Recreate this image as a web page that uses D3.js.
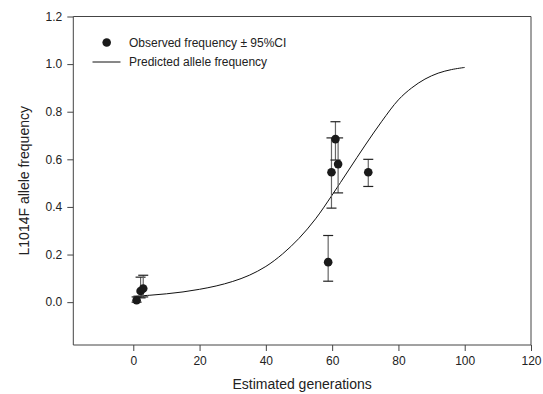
<!DOCTYPE html>
<html>
<head>
<meta charset="utf-8">
<script src="https://cdn.jsdelivr.net/npm/d3@7"></script>
<style>
  html, body { margin: 0; padding: 0; background: #fff; }
  svg { display: block; font-family: "Liberation Sans", Arial, sans-serif; }
</style>
</head>
<body>
<svg id="chart" width="543" height="394"></svg>
<script>
// Observed data (estimated generations, frequency, 95% CI)
const obsGen   = [1.0, 2.2, 3.0, 58.8, 59.8, 61.0, 61.8, 70.9];
const obsFreq  = [0.008, 0.047, 0.057, 0.168, 0.546, 0.685, 0.580, 0.546];
const obsLower = [0.000, 0.018, 0.022, 0.088, 0.395, 0.597, 0.459, 0.486];
const obsUpper = [0.022, 0.105, 0.113, 0.280, 0.690, 0.758, 0.690, 0.600];

// Predicted allele frequency curve
const predGen  = [0, 5, 10, 15, 20, 25, 30, 35, 40, 45, 50, 55, 60, 65, 70, 75, 80, 84, 88, 92, 96, 100];
const predFreq = [0.025, 0.029, 0.035, 0.043, 0.054, 0.068, 0.087, 0.113, 0.150, 0.202, 0.268, 0.350,
                  0.45, 0.555, 0.66, 0.76, 0.85, 0.90, 0.937, 0.962, 0.977, 0.986];

const xTicks = [0, 20, 40, 60, 80, 100, 120];
const yTicks = [0.0, 0.2, 0.4, 0.6, 0.8, 1.0, 1.2];

const legendLabels = ["Observed frequency \u00b1 95%CI", "Predicted allele frequency"];
const xTitle = "Estimated generations";
const yTitle = "L1014F allele frequency";

const svg = d3.select("#chart");
const L = 73.3, R = 531, T = 16.5, B = 345;

const x = d3.scaleLinear().domain([-18.1, 120]).range([L, R]);
const y = d3.scaleLinear().domain([-0.18, 1.2]).range([B, T]);

const axisColor = "#444";
const textColor = "#222";

// frame top & right
svg.append("line").attr("x1", L).attr("x2", R).attr("y1", T).attr("y2", T)
  .attr("stroke", axisColor).attr("stroke-width", 1);
svg.append("line").attr("x1", R).attr("x2", R).attr("y1", T).attr("y2", B)
  .attr("stroke", axisColor).attr("stroke-width", 1);

// axes
const xAxis = svg.append("g").attr("transform", `translate(0,${B})`)
  .call(d3.axisBottom(x).tickValues(xTicks).tickSize(6).tickPadding(5).tickFormat(d3.format("d")));
const yAxis = svg.append("g").attr("transform", `translate(${L},0)`)
  .call(d3.axisLeft(y).tickValues(yTicks).tickSize(6).tickPadding(5).tickFormat(d3.format(".1f")));
[xAxis, yAxis].forEach(g => {
  g.select(".domain").attr("stroke", axisColor).attr("stroke-width", 1);
  g.selectAll(".tick line").attr("stroke", axisColor);
  g.selectAll(".tick text").attr("fill", textColor)
    .style("font-size", "12px").style("font-family", "'Liberation Sans', Arial, sans-serif");
});
// remove outer ticks
xAxis.select(".domain").attr("d", `M${L},0H${R}`);
yAxis.select(".domain").attr("d", `M0,${B}V${T}`);

// titles
svg.append("text").attr("x", (L + R) / 2).attr("y", 389)
  .attr("text-anchor", "middle").attr("fill", textColor).style("font-size", "14px").text(xTitle);
svg.append("text").attr("transform", `translate(29,${(T + B) / 2}) rotate(-90)`)
  .attr("text-anchor", "middle").attr("fill", textColor).style("font-size", "14px").text(yTitle);

// predicted curve
const line = d3.line().x(d => x(d[0])).y(d => y(d[1])).curve(d3.curveCatmullRom.alpha(0.5));
svg.append("path").datum(predGen.map((g, i) => [g, predFreq[i]]))
  .attr("d", line).attr("fill", "none").attr("stroke", "#111").attr("stroke-width", 1);

// error bars
const obs = obsGen.map((g, i) => ({ g, f: obsFreq[i], lo: obsLower[i], hi: obsUpper[i] }));
const capW = 5;
const eb = svg.append("g");
obs.forEach(d => {
  eb.append("line").attr("x1", x(d.g)).attr("x2", x(d.g)).attr("y1", y(d.lo)).attr("y2", y(d.hi))
    .attr("stroke", "#666").attr("stroke-width", 1.2);
  [d.lo, d.hi].forEach(v => {
    eb.append("line").attr("x1", x(d.g) - capW).attr("x2", x(d.g) + capW).attr("y1", y(v)).attr("y2", y(v))
      .attr("stroke", "#222").attr("stroke-width", 1.2);
  });
});
// points
svg.append("g").selectAll("circle").data(obs).join("circle")
  .attr("cx", d => x(d.g)).attr("cy", d => y(d.f)).attr("r", 4.3).attr("fill", "#1a1a1a");

// legend
const lg = svg.append("g");
lg.append("circle").attr("cx", 106.7).attr("cy", 42.5).attr("r", 4.3).attr("fill", "#1a1a1a");
lg.append("line").attr("x1", 92.5).attr("x2", 120.5).attr("y1", 62).attr("y2", 62)
  .attr("stroke", "#111").attr("stroke-width", 1);
lg.selectAll("text").data(legendLabels).join("text")
  .attr("x", 129).attr("y", (d, i) => 46.8 + i * 19)
  .attr("fill", textColor).style("font-size", "12px").text(d => d);
</script>
</body>
</html>
